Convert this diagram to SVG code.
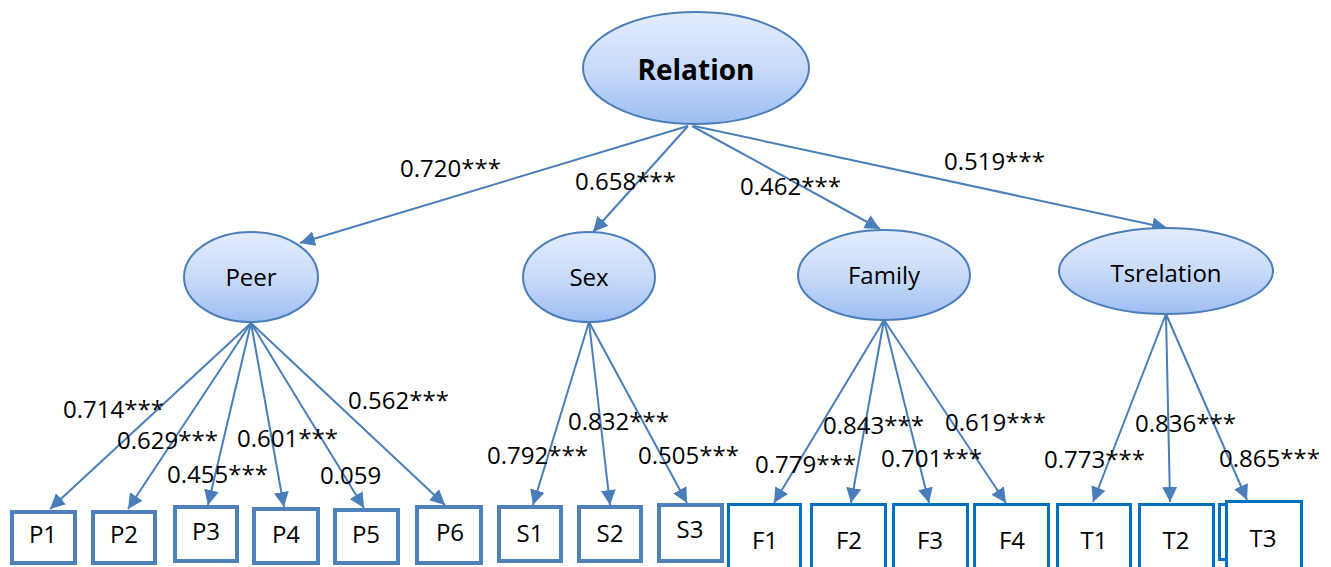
<svg xmlns="http://www.w3.org/2000/svg" width="1331" height="567" viewBox="0 0 1331 567">
  <style>
    .lat { stroke: #4a7ebb; stroke-width: 2; fill: url(#latFill); }
    .edge { stroke: #4a7ebb; stroke-width: 2; fill: none; marker-end: url(#arrow); }
    .ind { fill: #ffffff; stroke: #4f81bd; stroke-width: 4; }
    .ind2 { fill: #ffffff; stroke: #0070c0; stroke-width: 3; }
    .t { font-family: "Open Sans", "Liberation Sans", sans-serif; fill: #000000; }
    .nl { font-size: 24px; text-anchor: middle; }
    .bl { font-size: 24px; text-anchor: middle; }
    .cf { font-size: 24px; }
    .root { font-size: 28px; font-weight: bold; text-anchor: middle; }
  </style>
  <defs>
    <linearGradient id="latFill" x1="0" y1="0" x2="0" y2="1">
      <stop offset="0" stop-color="#e2ecfd"/>
      <stop offset="0.5" stop-color="#c9dbf9"/>
      <stop offset="1" stop-color="#9dbdf2"/>
    </linearGradient>
    <marker id="arrow" markerUnits="userSpaceOnUse" markerWidth="17" markerHeight="16" refX="15" refY="8" orient="auto">
      <path d="M0,0.5 L15,8 L0,15.5 z" fill="#4a7ebb"/>
    </marker>
  </defs>

  <!-- connectors -->
  <g id="connectors">
    <line class="edge" x1="688" y1="126" x2="300" y2="243"/>
    <line class="edge" x1="688" y1="126" x2="593" y2="232"/>
    <line class="edge" x1="692" y1="126" x2="880" y2="229"/>
    <line class="edge" x1="694" y1="126" x2="1167" y2="228"/>

    <line class="edge" x1="251" y1="323" x2="50" y2="509"/>
    <line class="edge" x1="251" y1="323" x2="128" y2="509"/>
    <line class="edge" x1="251" y1="323" x2="208" y2="505"/>
    <line class="edge" x1="251" y1="323" x2="284" y2="507"/>
    <line class="edge" x1="251" y1="323" x2="364" y2="508"/>
    <line class="edge" x1="251" y1="323" x2="445" y2="505"/>

    <line class="edge" x1="589" y1="322" x2="533" y2="505"/>
    <line class="edge" x1="589" y1="322" x2="610" y2="505"/>
    <line class="edge" x1="589" y1="322" x2="687" y2="503"/>

    <line class="edge" x1="884" y1="320" x2="774" y2="503"/>
    <line class="edge" x1="884" y1="320" x2="851" y2="503"/>
    <line class="edge" x1="884" y1="320" x2="929" y2="503"/>
    <line class="edge" x1="884" y1="320" x2="1006" y2="503"/>

    <line class="edge" x1="1166" y1="314" x2="1093" y2="502"/>
    <line class="edge" x1="1166" y1="314" x2="1170" y2="502"/>
    <line class="edge" x1="1166" y1="314" x2="1247" y2="500"/>
  </g>

  <!-- path coefficients -->
  <g id="coefficients" class="t cf">
    <text x="400" y="177">0.720***</text>
    <text x="575" y="190">0.658***</text>
    <text x="740" y="195">0.462***</text>
    <text x="944" y="170">0.519***</text>

    <text x="63" y="418">0.714***</text>
    <text x="117" y="449">0.629***</text>
    <text x="237" y="447">0.601***</text>
    <text x="167" y="483">0.455***</text>
    <text x="320" y="484">0.059</text>
    <text x="348" y="409">0.562***</text>

    <text x="487" y="464">0.792***</text>
    <text x="568" y="430">0.832***</text>
    <text x="638" y="464">0.505***</text>

    <text x="755" y="473">0.779***</text>
    <text x="823" y="434">0.843***</text>
    <text x="881" y="467">0.701***</text>
    <text x="945" y="431">0.619***</text>

    <text x="1044" y="468">0.773***</text>
    <text x="1135" y="432">0.836***</text>
    <text x="1219" y="467">0.865***</text>
  </g>

  <!-- latent variables -->
  <g id="relation">
    <ellipse class="lat" cx="696" cy="68" rx="113" ry="56"/>
    <text class="t root" x="696" y="80">Relation</text>
  </g>
  <g id="peer">
    <ellipse class="lat" cx="251" cy="277" rx="67" ry="45"/>
    <text class="t nl" x="251" y="286">Peer</text>
  </g>
  <g id="sex">
    <ellipse class="lat" cx="589" cy="277" rx="66" ry="45"/>
    <text class="t nl" x="589" y="286">Sex</text>
  </g>
  <g id="family">
    <ellipse class="lat" cx="884" cy="275" rx="86" ry="45"/>
    <text class="t nl" x="884" y="284">Family</text>
  </g>
  <g id="tsrelation">
    <ellipse class="lat" cx="1166" cy="271" rx="107" ry="43"/>
    <text class="t nl" x="1166" y="282">Tsrelation</text>
  </g>

  <!-- observed indicators -->
  <g id="P1"><rect class="ind" x="12" y="512" width="63" height="51"/><text class="t bl" x="43" y="543">P1</text></g>
  <g id="P2"><rect class="ind" x="93" y="512" width="62" height="51"/><text class="t bl" x="124" y="543">P2</text></g>
  <g id="P3"><rect class="ind" x="175" y="507" width="62" height="54"/><text class="t bl" x="206" y="540">P3</text></g>
  <g id="P4"><rect class="ind" x="254" y="509" width="64" height="54"/><text class="t bl" x="286" y="543">P4</text></g>
  <g id="P5"><rect class="ind" x="335" y="510" width="63" height="53"/><text class="t bl" x="366" y="543">P5</text></g>
  <g id="P6"><rect class="ind" x="417" y="507" width="64" height="56"/><text class="t bl" x="450" y="541">P6</text></g>

  <g id="S1"><rect class="ind" x="499" y="507" width="62" height="54"/><text class="t bl" x="530" y="542">S1</text></g>
  <g id="S2"><rect class="ind" x="579" y="507" width="62" height="54"/><text class="t bl" x="610" y="542">S2</text></g>
  <g id="S3"><rect class="ind" x="659" y="505" width="63" height="56"/><text class="t bl" x="690" y="538">S3</text></g>

  <g id="F1"><rect class="ind2" x="728.5" y="504.5" width="72" height="70"/><text class="t bl" x="765" y="549">F1</text></g>
  <g id="F2"><rect class="ind2" x="811.5" y="504.5" width="74" height="70"/><text class="t bl" x="849" y="549">F2</text></g>
  <g id="F3"><rect class="ind2" x="893.5" y="504.5" width="74" height="70"/><text class="t bl" x="930" y="549">F3</text></g>
  <g id="F4"><rect class="ind2" x="974.5" y="504.5" width="74" height="70"/><text class="t bl" x="1012" y="549">F4</text></g>

  <g id="T1"><rect class="ind2" x="1057.5" y="504.5" width="73" height="70"/><text class="t bl" x="1094" y="549">T1</text></g>
  <g id="T2"><rect class="ind2" x="1139.5" y="504.5" width="74" height="70"/><text class="t bl" x="1176" y="549">T2</text></g>
  <g id="T3">
    <rect class="ind2" x="1219.5" y="504.5" width="20" height="55"/>
    <rect class="ind2" x="1226.5" y="501.5" width="75" height="70"/>
    <text class="t bl" x="1263" y="547">T3</text>
  </g>
</svg>
